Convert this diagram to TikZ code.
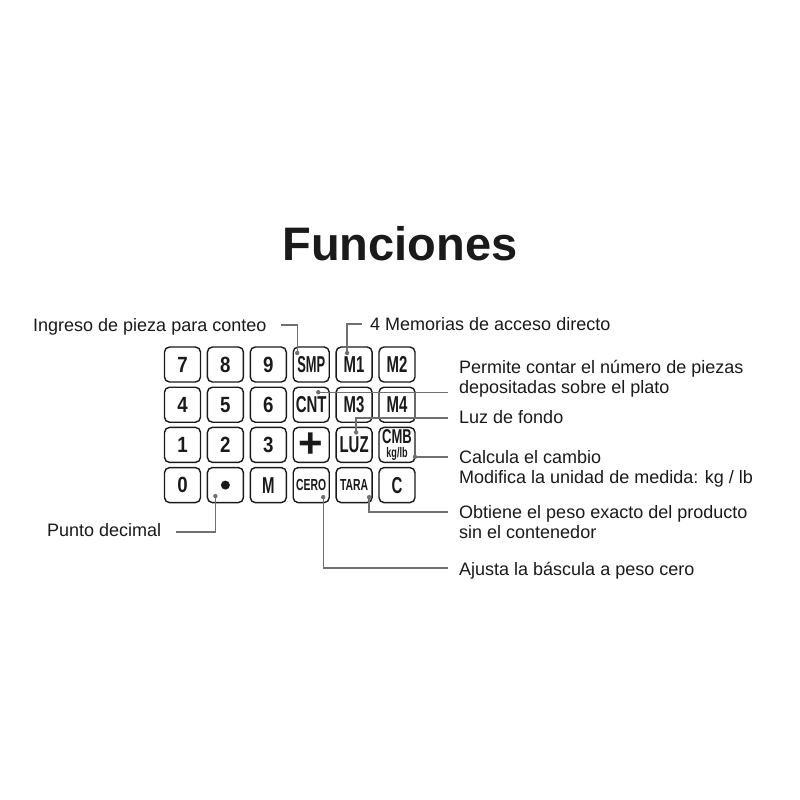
\documentclass[tikz,border=0pt]{standalone}
\usepackage{fontspec}
\setmainfont{Liberation Sans}
\newfontfamily\keyfont[FakeStretch=0.65]{Liberation Sans}
\newfontfamily\digfont[FakeStretch=0.85]{Liberation Sans}
\usetikzlibrary{calc}
\definecolor{lc}{HTML}{707070}
\definecolor{ink}{HTML}{1A1A1A}
\tikzset{
  key/.style={draw=ink, line width=1.4pt, rounded corners=5pt, minimum width=36pt,
    minimum height=35pt, inner sep=0pt, text=ink, font=\keyfont\bfseries\fontsize{23}{23}\selectfont},
  digkey/.style={key, font=\digfont\bfseries\fontsize{22}{22}\selectfont},
  smallkey/.style={key, font=\keyfont\bfseries\fontsize{16}{16}\selectfont},
  lbl/.style={font=\fontsize{18}{20}\selectfont, inner sep=0pt, anchor=base west, align=left, text=ink},
  conn/.style={draw=lc, line width=1.3pt},
  pin/.style={fill=lc}
}
\begin{document}
\begin{tikzpicture}[x=1pt,y=-1pt]
\useasboundingbox (0,0) rectangle (800,800);
\fill[white] (0,0) rectangle (800,800);
\node[font=\bfseries\fontsize{47}{47}\selectfont, anchor=base, inner sep=0pt, text=ink] (title) at (400,260) {Funciones};
% keys
\node[digkey] (k7) at (182.5,364.5) {7};
\node[digkey] (k8) at (225.4,364.5) {8};
\node[digkey] (k9) at (268.3,364.5) {9};
\node[key] (ksmp) at (311.2,364.5) {\scalebox{0.86}[1]{SMP}};
\node[key] (km1) at (354.1,364.5) {M1};
\node[key] (km2) at (397.0,364.5) {M2};
\node[digkey] (k4) at (182.5,404.7) {4};
\node[digkey] (k5) at (225.4,404.7) {5};
\node[digkey] (k6) at (268.3,404.7) {6};
\node[key] (kcnt) at (311.2,404.7) {CNT};
\node[key] (km3) at (354.1,404.7) {M3};
\node[key] (km4) at (397.0,404.7) {M4};
\node[digkey] (k1) at (182.5,444.9) {1};
\node[digkey] (k2) at (225.4,444.9) {2};
\node[digkey] (k3) at (268.3,444.9) {3};
\node[key, font=\bfseries\fontsize{42}{42}\selectfont] (kplus) at (311.2,444.9) {+};
\node[key] (kluz) at (354.1,444.9) {LUZ};
\node[key, align=center, font=\keyfont\bfseries\fontsize{20}{15}\selectfont] (kcmb) at (397.0,444.9) {CMB\\[-1pt]{\fontsize{14}{14}\selectfont kg/lb}};
\node[digkey] (k0) at (182.5,485.1) {0};
\node[key] (kpt) at (225.4,485.1) {};
\fill[ink] (kpt.center) circle (4.5);
\node[key] (km) at (268.3,485.1) {M};
\node[smallkey] (kcero) at (311.2,485.1) {CERO};
\node[smallkey] (ktara) at (354.1,485.1) {TARA};
\node[key] (kc) at (397.0,485.1) {C};
% labels
\node[lbl] (ing) at (33,331) {Ingreso de pieza para conteo};
\node[lbl] (mem) at (370,330) {4 Memorias de acceso directo};
\node[lbl] (perm) at (459,393) {Permite contar el número de piezas\\depositadas sobre el plato};
\node[lbl] (luz) at (459,423) {Luz de fondo};
\node[lbl] (calc) at (459,483) {Calcula el cambio\\Modifica la unidad de medida: kg / lb};
\node[lbl] (obt) at (459,538) {Obtiene el peso exacto del producto\\sin el contenedor};
\node[lbl] (aju) at (459,575) {Ajusta la báscula a peso cero};
\node[lbl] (pto) at (47,536) {Punto decimal};
% pin points
\coordinate (dSMP) at ($(ksmp.center)+(-14,-11.5)$);
\coordinate (dM1) at ($(km1.center)+(-7,-11.5)$);
\coordinate (dCNT) at ($(kcnt.center)+(7,-12.5)$);
\coordinate (dLUZ) at ($(kluz.center)+(2,-12.5)$);
\coordinate (dCMB) at ($(kcmb.center)+(18,12)$);
\coordinate (dTARA) at ($(ktara.center)+(15,12)$);
\coordinate (dCERO) at ($(kcero.center)+(12,12)$);
\coordinate (dPTO) at ($(kpt.center)+(-10,11)$);
% connectors
\draw[conn] (dSMP) |- ($(ing.base east)+(14,-6)$);
\draw[conn] (dM1) |- ($(mem.base west)+(-8,-6)$);
\draw[conn] (dCNT) -- ($(dCNT -| perm.west)+(-11,0)$);
\draw[conn] (dLUZ) |- ($(luz.base west)+(-11,-5)$);
\draw[conn] (dCMB) -- ($(dCMB -| calc.west)+(-11,0)$);
\draw[conn] (dTARA) |- ($(obt.base west)+(-11,-26)$);
\draw[conn] (dCERO) |- ($(aju.base west)+(-11,-7)$);
\draw[conn] (dPTO) |- ($(pto.base east)+(15,-4)$);
\foreach \p in {dSMP,dM1,dCNT,dLUZ,dCMB,dTARA,dCERO,dPTO} \fill[pin] (\p) circle (2.2);
\end{tikzpicture}
\end{document}
